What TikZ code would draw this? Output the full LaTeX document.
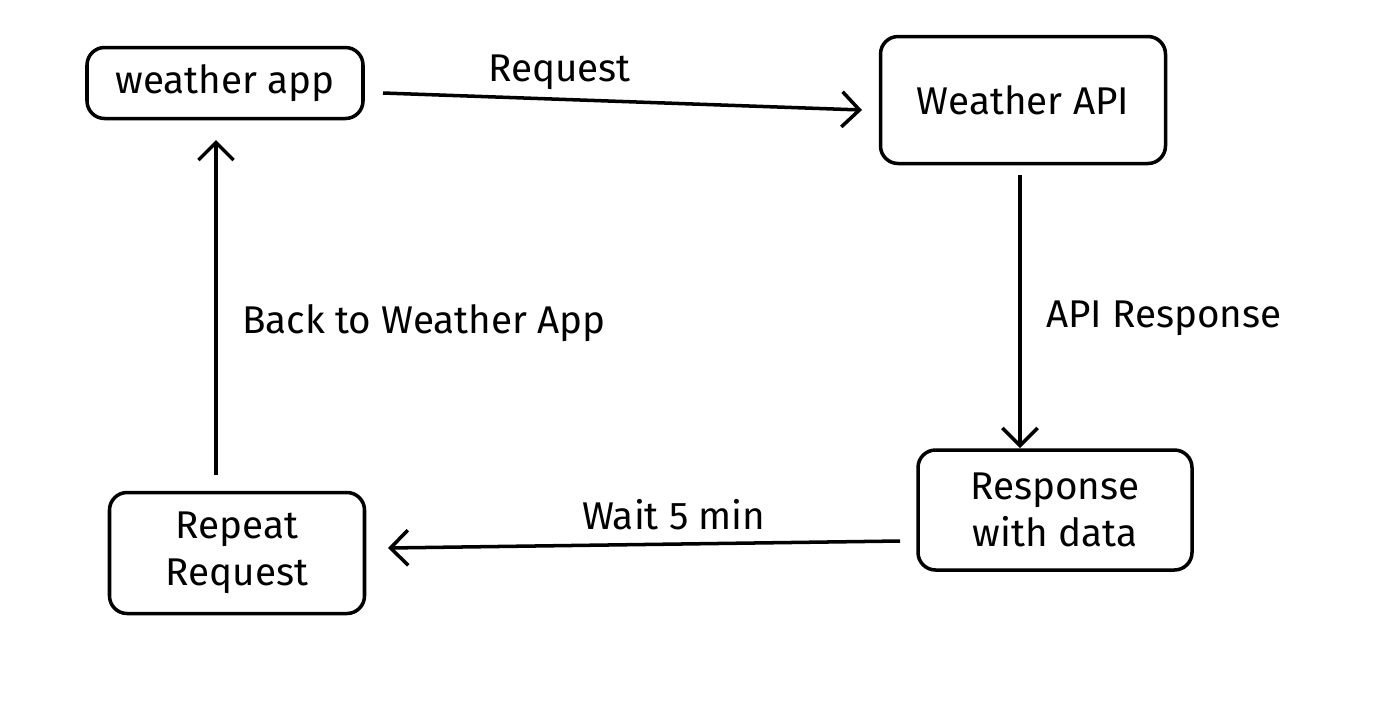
\documentclass[tikz,border=0pt]{standalone}
\usepackage{fontspec}
\setmainfont{Fira Sans}
\usetikzlibrary{arrows.meta,positioning}
\tikzstyle{box}=[draw, rounded corners=10pt, line width=2pt, align=center, inner sep=0pt, font=\fontsize{22}{27}\selectfont]
\tikzstyle{lbl}=[anchor=west, font=\fontsize{22}{27}\selectfont]
\tikzstyle{flow}=[-{Straight Barb[length=10pt,width=20pt,line width=2pt]}, line width=2pt]

\begin{document}
\begin{tikzpicture}[x=0.02cm,y=-0.02cm]
\useasboundingbox (0,0) rectangle (1376,708);

\node[box, minimum width=276*0.02cm, minimum height=71*0.02cm] at (225,83) (app) {weather app};
\node[box, minimum width=285*0.02cm, minimum height=127*0.02cm] at (1023,100) (api) {Weather API};
\node[box, minimum width=274*0.02cm, minimum height=120*0.02cm] at (1055,510) (resp) {Response\\with data};
\node[box, minimum width=255*0.02cm, minimum height=121*0.02cm] at (237,553) (rep) {Repeat\\Request};

\coordinate (a1) at (383,93);
\coordinate (a2) at (862,110);
\draw[flow] (a1) -- (a2);
\node[lbl] at (482,72) (req) {Request};

\coordinate (b1) at (1020,175);
\coordinate (b2) at (1020,448);
\draw[flow] (b1) -- (b2);
\node[lbl] at (1040,318) (apiresp) {API Response};

\coordinate (c1) at (900,541);
\coordinate (c2) at (388,548);
\draw[flow] (c1) -- (c2);
\node[lbl] at (576,515) (wait) {Wait 5 min};

\coordinate (d1) at (216,475);
\coordinate (d2) at (216,140);
\draw[flow] (d1) -- (d2);
\node[lbl] at (236,323) (back) {Back to Weather App};
\end{tikzpicture}
\end{document}
